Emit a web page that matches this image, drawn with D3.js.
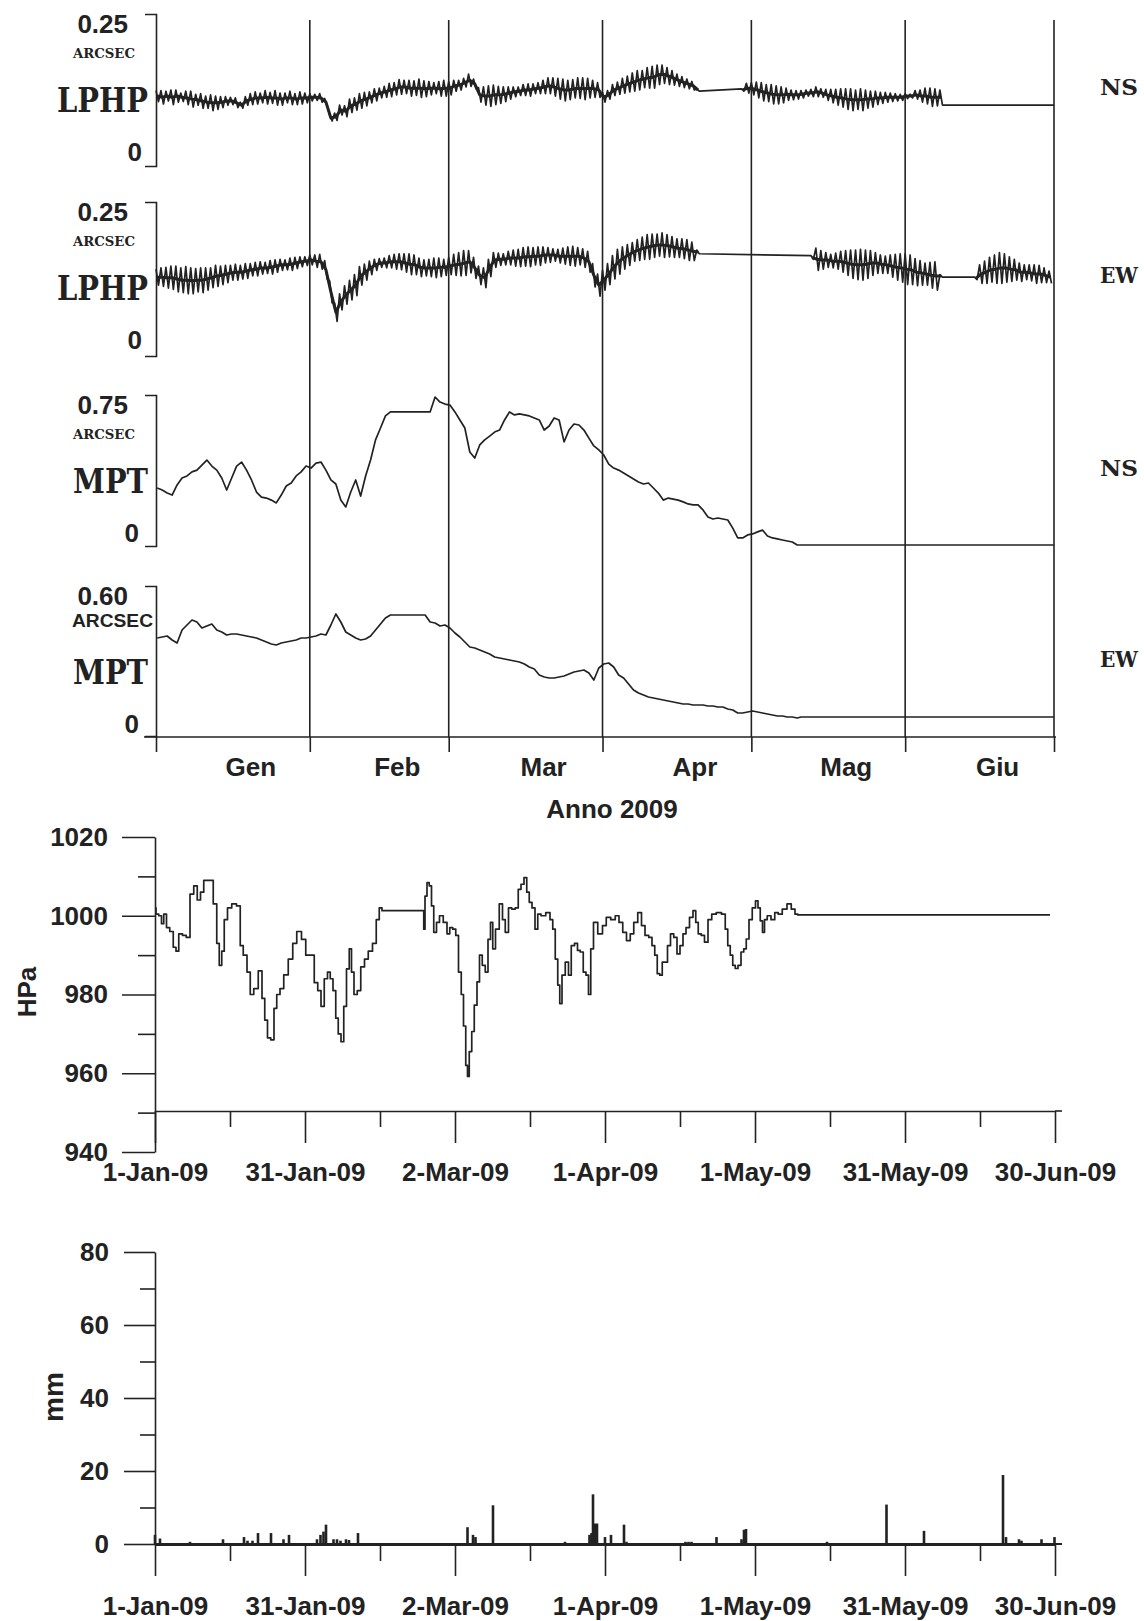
<!DOCTYPE html>
<html>
<head>
<meta charset="utf-8">
<script src="https://cdn.jsdelivr.net/npm/d3@7"></script>
<style>
  body { margin: 0; background: #fff; }
  svg { display: block; }
</style>
</head>
<body>
<svg id="chart" width="1144" height="1621"></svg>
<script>
// ---------------------------------------------------------------
// Tilt records (arcsec), Jan–Jun 2009, one entry per day (day 0 = 1 Jan).
// LPHP series are stored as daily mean and daily peak-to-peak range;
// null marks days with no recording (the trace bridges them straight).
// ---------------------------------------------------------------
const gap = n => Array(n).fill(null);

const monthStart = [0, 31, 59, 90, 120, 151, 181];
const monthNames = ["Gen", "Feb", "Mar", "Apr", "Mag", "Giu"];

const panelMax   = [0.25, 0.25, 0.75, 0.60];
const panelMaxLabel = ["0.25", "0.25", "0.75", "0.60"];
const panelNames = ["LPHP", "LPHP", "MPT", "MPT"];
const panelComponents = ["NS", "EW", "NS", "EW"];

const lphpNsMean = [
  0.115,0.113,0.115,0.113,0.115,0.113,0.112,0.110,0.109,0.107,
  0.105,0.104,0.104,0.105,0.107,0.107,0.104,0.100,0.107,0.110,
  0.112,0.112,0.113,0.112,0.112,0.110,0.112,0.112,0.110,0.112,
  0.112,0.113,0.113,0.112,0.105,0.079,0.081,0.092,0.090,0.099,
  0.102,0.107,0.110,0.113,0.117,0.120,0.122,0.125,0.127,0.130,
  0.130,0.128,0.128,0.128,0.127,0.128,0.128,0.127,0.128,0.128,
  0.132,0.133,0.137,0.141,0.135,0.117,0.115,0.115,0.117,0.117,
  0.118,0.120,0.122,0.123,0.125,0.125,0.127,0.128,0.130,0.132,
  0.130,0.127,0.125,0.125,0.127,0.128,0.127,0.128,0.127,0.125,
  0.113,0.117,0.125,0.128,0.132,0.135,0.138,0.141,0.143,0.145,
  0.146,0.150,0.151,0.148,0.145,0.141,0.138,0.135,0.132,0.125,
  ...gap(8),
  0.125,0.128,0.127,0.125,0.122,0.120,0.118,0.117,0.117,0.118,
  0.117,0.117,0.118,0.120,0.120,0.122,0.120,0.117,0.115,0.113,
  0.112,0.110,0.109,0.109,0.109,0.110,0.110,0.112,0.112,0.113,
  0.113,0.113,0.113,0.115,0.115,0.117,0.115,0.115,0.113,0.113,0.113
];
const lphpNsRange = [
  0.018,0.022,0.016,0.024,0.020,0.014,0.022,0.026,0.018,0.024,
  0.020,0.026,0.022,0.018,0.014,0.012,0.016,0.010,0.014,0.018,
  0.020,0.016,0.022,0.018,0.024,0.020,0.016,0.022,0.018,0.020,
  0.016,0.012,0.010,0.014,0.012,0.010,0.012,0.016,0.018,0.022,
  0.020,0.024,0.022,0.018,0.020,0.016,0.018,0.022,0.020,0.024,
  0.022,0.026,0.024,0.030,0.026,0.022,0.018,0.024,0.026,0.022,
  0.018,0.016,0.014,0.020,0.016,0.024,0.030,0.034,0.032,0.028,
  0.024,0.020,0.016,0.014,0.018,0.020,0.016,0.018,0.022,0.026,
  0.030,0.034,0.036,0.032,0.030,0.034,0.036,0.032,0.028,0.024,
  0.016,0.014,0.018,0.020,0.024,0.026,0.030,0.032,0.028,0.034,
  0.036,0.032,0.030,0.028,0.024,0.020,0.018,0.016,0.014,0.004,
  ...gap(8),
  0.004,0.016,0.020,0.026,0.030,0.028,0.032,0.030,0.026,0.020,
  0.016,0.014,0.012,0.010,0.012,0.016,0.014,0.018,0.022,0.026,
  0.030,0.034,0.036,0.032,0.036,0.030,0.026,0.022,0.018,0.016,
  0.014,0.012,0.010,0.008,0.006,0.014,0.020,0.026,0.030,0.028,0.024
];
// value held by the logger after the NS channel stopped
const lphpNsHold = [[158.6, 0.100], [181, 0.100]];

const lphpEwMean = [
  0.128,0.128,0.127,0.127,0.125,0.123,0.123,0.122,0.123,0.123,
  0.125,0.127,0.130,0.131,0.133,0.135,0.136,0.136,0.138,0.140,
  0.141,0.143,0.143,0.144,0.146,0.148,0.148,0.149,0.151,0.153,
  0.154,0.156,0.154,0.153,0.140,0.104,0.071,0.088,0.099,0.107,
  0.115,0.130,0.136,0.143,0.148,0.151,0.151,0.153,0.153,0.153,
  0.151,0.149,0.148,0.144,0.143,0.143,0.143,0.144,0.144,0.146,
  0.148,0.149,0.151,0.153,0.143,0.131,0.127,0.143,0.156,0.157,
  0.157,0.159,0.159,0.159,0.161,0.161,0.162,0.162,0.164,0.164,
  0.164,0.162,0.162,0.162,0.162,0.162,0.159,0.153,0.131,0.115,
  0.123,0.133,0.144,0.153,0.159,0.164,0.169,0.172,0.175,0.177,
  0.179,0.180,0.180,0.179,0.177,0.175,0.174,0.172,0.170,0.169,
  ...gap(22),
  0.160,0.157,0.156,0.156,0.154,0.154,0.153,0.151,0.149,0.148,
  0.148,0.149,0.151,0.151,0.149,0.148,0.146,0.144,0.143,0.141,
  0.140,0.136,0.135,0.133,0.131,0.130,0.130,
  ...gap(6),
  0.126,0.133,0.136,0.140,0.141,0.143,0.143,0.141,0.140,0.136,
  0.136,0.135,0.133,0.133,0.131,0.128
];
const lphpEwRange = [
  0.026,0.030,0.034,0.038,0.042,0.040,0.044,0.042,0.038,0.040,
  0.036,0.032,0.034,0.030,0.028,0.024,0.026,0.022,0.024,0.020,
  0.022,0.020,0.018,0.022,0.020,0.018,0.016,0.020,0.018,0.016,
  0.014,0.016,0.020,0.024,0.030,0.036,0.030,0.026,0.030,0.032,
  0.034,0.030,0.026,0.022,0.018,0.014,0.016,0.020,0.024,0.026,
  0.030,0.034,0.032,0.030,0.026,0.028,0.032,0.030,0.026,0.028,
  0.034,0.038,0.040,0.036,0.034,0.030,0.032,0.028,0.024,0.020,
  0.018,0.022,0.026,0.028,0.030,0.032,0.028,0.030,0.026,0.024,
  0.020,0.022,0.026,0.030,0.032,0.028,0.030,0.034,0.038,0.036,
  0.032,0.034,0.038,0.040,0.036,0.034,0.030,0.034,0.036,0.040,
  0.038,0.036,0.040,0.036,0.034,0.030,0.032,0.034,0.030,0.006,
  ...gap(22),
  0.006,0.036,0.030,0.024,0.022,0.026,0.034,0.040,0.046,0.048,
  0.050,0.046,0.040,0.034,0.030,0.028,0.036,0.042,0.046,0.050,
  0.048,0.044,0.040,0.036,0.042,0.046,0.004,
  ...gap(6),
  0.004,0.030,0.036,0.040,0.046,0.050,0.046,0.040,0.034,0.030,
  0.024,0.026,0.030,0.028,0.024,0.020
];

const mptNs = [
  0.288,0.278,0.263,0.253,0.303,0.338,0.348,0.368,0.377,0.402,
  0.427,0.397,0.377,0.338,0.278,0.338,0.397,0.417,0.377,0.328,
  0.268,0.243,0.238,0.228,0.214,0.253,0.298,0.313,0.348,0.368,
  0.397,0.387,0.412,0.417,0.377,0.328,0.308,0.228,0.194,0.268,
  0.328,0.248,0.348,0.427,0.527,0.586,0.646,0.666,
  ...gap(7),
  0.666,0.740,0.715,0.705,0.700,
  0.666,0.626,0.586,0.467,0.437,0.502,0.527,0.546,0.566,0.576,
  0.626,0.666,0.651,0.656,0.651,0.646,0.636,0.626,0.576,0.596,
  0.636,0.626,0.517,0.576,0.606,0.601,0.576,0.536,0.497,0.477,
  0.452,0.407,0.387,0.377,0.363,0.348,0.333,0.318,0.308,0.313,
  0.288,0.263,0.228,0.238,0.233,0.228,0.219,0.209,0.204,0.204,
  0.179,0.144,0.134,0.139,0.134,0.129,0.089,0.040,0.040,0.055,
  0.060,0.070,0.079,0.050,0.040,0.035,0.030,0.025,0.020,0.005
];
const mptNsHold = [[181, 0.005]];

const mptEw = [
  0.392,0.396,0.400,0.384,0.372,0.424,0.444,0.464,0.456,0.432,
  0.440,0.448,0.424,0.416,0.404,0.408,0.408,0.404,0.400,0.396,
  0.392,0.384,0.376,0.368,0.364,0.372,0.376,0.380,0.384,0.392,
  0.392,0.396,0.400,0.408,0.404,0.444,0.488,0.456,0.416,0.404,
  0.392,0.384,0.388,0.400,0.424,0.448,0.472,0.484,
  ...gap(6),
  0.484,
  0.456,0.452,0.440,0.444,0.432,
  0.412,0.396,0.376,0.356,0.352,0.344,0.336,0.328,0.316,0.312,
  0.308,0.304,0.300,0.296,0.288,0.276,0.268,0.244,0.236,0.232,
  0.232,0.236,0.240,0.248,0.256,0.260,0.264,0.252,0.224,0.272,
  0.288,0.292,0.276,0.244,0.232,0.208,0.184,0.172,0.164,0.156,
  0.152,0.148,0.144,0.140,0.136,0.132,0.128,0.128,0.124,0.124,
  0.124,0.120,0.120,0.116,0.116,0.108,0.104,0.092,0.092,0.096,
  0.100,0.096,0.092,0.088,0.084,0.080,0.080,0.076,0.076,0.072
];
const mptEwHold = [[130, 0.076], [181, 0.076]];

// Atmospheric pressure (hPa): [day since 1 Jan, value]
const pressure = [
  [0,1002],[0.4,1000.4],[1.1,1000],[1.5,998],[2,1000.4],[2.6,997],[3.3,996],[4,992],[4.4,991],
  [5.1,995.4],[5.9,995],[6.6,994.5],[7.4,1005.5],[8.1,1007.6],[8.8,1004],[9.4,1006],[10.1,1009],
  [11.2,1009],[12.1,1003],[12.6,993],[13.1,987.4],[13.6,991],[14.1,999],[14.9,1002],[15.8,1003],
  [16.8,1002.5],[17.3,992.4],[18,990],[18.8,985.7],[19.3,980],[20.2,981.5],[21.1,986],[21.7,979],
  [22.2,973.5],[22.8,969],[23.5,968.5],[24.1,976.5],[24.6,980],[25.4,981.5],[26.1,985],[27.2,989],
  [27.9,993],[28.8,996],[29.8,994],[30.5,990],[31.5,990],[32.2,983],[32.9,981],[33.5,977],[34.2,984],
  [34.8,985.7],[35.3,984],[35.9,981],[36.4,974],[36.9,970],[37.5,968],[38,977],[38.6,986.5],
  [39.1,991.6],[39.5,985.7],[40.1,980],[40.8,981],[41.5,987],[42.3,989],[43,991],[44,993],[44.5,999],
  [45.2,1002],[45.6,1001.3],[53.7,1001.3],[53.8,996.6],[54.2,1005],[54.6,1008.4],[55.1,1007.6],
  [55.5,1002.5],[56,995.8],[56.6,998.3],[57.2,1000],[58.1,998.3],[58.7,995.4],[59.2,997],[59.9,996.6],
  [60.4,995],[61,985.7],[61.5,980],[61.9,972],[62.4,962],[62.6,959.2],[63.1,965.5],[63.6,970.6],
  [64.1,977.3],[64.7,983.2],[65.1,990],[65.8,987.4],[66.3,985.7],[66.9,994],[67.3,998.3],[67.8,991.6],
  [68.4,996.6],[69.3,1003],[69.7,999],[70.4,995.8],[71,1002],[71.7,1001.7],[72.4,1002],[72.9,1006.7],
  [73.5,1008],[74.1,1009.7],[74.6,1006],[75.1,1003.4],[75.7,1002],[76.3,996.6],[76.8,1000.4],
  [77.6,1000],[78.7,1000.8],[79.3,999],[79.8,996.6],[80.3,989],[80.8,982.4],[81.1,977.7],[81.7,984.9],
  [82.4,988.2],[83,984.9],[83.5,992.4],[84.3,993],[84.7,991.2],[85.4,990.8],[85.9,985.7],[86.5,984.9],
  [86.9,980],[87.4,991.6],[88,998.3],[89.1,995.4],[89.9,997.5],[90.6,999.6],[91.7,999],[92.4,1000],
  [93.2,998.3],[93.9,995.8],[94.7,993.7],[95.4,995.4],[96.1,998.3],[97,1000.8],[97.6,997.5],[98.4,995],
  [99.1,994.5],[99.7,992.4],[100.2,990],[100.7,985.3],[101.2,984.9],[101.7,988.2],[102.2,988.2],
  [102.8,992.4],[103.4,995.4],[104.1,994.5],[104.7,990.3],[105.3,992.4],[105.9,995.4],[106.5,997],
  [107.3,999.6],[107.9,1001.3],[108.4,998.3],[108.9,995.4],[109.6,995],[110.2,993.3],[111,999],
  [111.7,1000.4],[112.8,1000.8],[113.8,1000.4],[114.3,996.6],[114.8,992.4],[115.3,990],[115.8,987.4],
  [116.3,986.6],[116.9,987.4],[117.5,990.8],[118,991.6],[118.5,994.1],[119.1,999],[119.8,1002],
  [120.4,1003.8],[120.8,1002],[121.3,998.7],[121.7,995.8],[122.1,999],[122.8,1000],[123.6,999],
  [124.3,1000.8],[125,1000.4],[125.9,1001.7],[126.9,1003],[127.6,1001.7],[128.4,1000.4],
  [128.7,1000.2],[179,1000.2]
];

// Rainfall (mm): [day since 1 Jan, amount]
const rain = [
  [0,2.5],[1,1.5],[7,0.6],[13.6,1.3],[17.8,1.9],[18.5,0.9],[19.5,0.9],[20.6,3],[23.2,3],[25.7,1.3],
  [26.8,2.5],[32.4,1.3],[33.1,2.5],[33.7,3.4],[34.2,5.3],[35.7,1.3],[36.4,1.3],[37.1,0.9],[38.2,1.3],
  [38.8,1.1],[40.6,3],[62.5,4.6],[63.6,2.5],[64.1,1.9],[67.6,10.6],[82,0.6],[86.9,2.5],[87.3,3],
  [87.6,13.6],[88,5.6],[88.4,5.6],[90,1.9],[91.2,2.5],[93.8,5.3],[94.3,0.6],[106.1,0.6],[106.7,0.6],
  [107.3,0.6],[112.3,1.9],[117.3,1.3],[117.8,3.9],[118.2,4.1],[134.4,0.6],[146.3,10.8],[153.8,3.6],
  [169.6,18.9],[170.2,1.9],[172.8,1.3],[173.3,0.9],[177.3,1.3],[179.9,1.9]
];

const dateTickDays = [0, 30, 60, 90, 120, 150, 180];
const dateTickLabels = ["1-Jan-09", "31-Jan-09", "2-Mar-09", "1-Apr-09", "1-May-09", "31-May-09", "30-Jun-09"];
const dateMinorDays = [15, 45, 75, 105, 135, 165];
const pressureTicks = [940, 960, 980, 1000, 1020];
const pressureMinor = [950, 970, 990, 1010];
const rainTicks = [0, 20, 40, 60, 80];
const rainMinor = [10, 30, 50, 70];

// ---------------------------------------------------------------
const INK = "#222";
const SANS = "'Liberation Sans', Arial, Helvetica, sans-serif";
const SERIF = "'DejaVu Serif', 'Liberation Serif', serif";
const svg = d3.select("#chart");

// ===== Tilt block =====
const dayX = d3.scaleLinear().domain([0, 181]).range([156, 1054]);
const panelTop = [14, 202, 395, 586];
const panelBottom = [166, 356, 546, 736];

// daily high / low pairs of the tidal swing
const zig = (mean, range) => {
  const pts = [];
  mean.forEach((m, d) => {
    if (m == null) return;
    const r = range[d] || 0;
    pts.push([d, m + r / 2], [d + 0.5, m - r / 2]);
  });
  return pts;
};
// daily points; keepGaps leaves null entries so the trace can break there
const daily = (vals, keepGaps) => {
  const pts = vals.map((v, d) => v == null ? null : [d + 0.25, v]);
  return keepGaps ? pts : pts.filter(p => p);
};

// each panel: list of [points, stroke width]
const panelTraces = [
  [[zig(lphpNsMean, lphpNsRange).concat(lphpNsHold), 1.7], [daily(lphpNsMean, true), 3]],
  [[zig(lphpEwMean, lphpEwRange), 1.7], [daily(lphpEwMean, true), 3]],
  [[daily(mptNs).concat(mptNsHold), 1.7]],
  [[daily(mptEw).concat(mptEwHold), 1.7]]
];

// month separators
svg.append("g").selectAll("line")
  .data(monthStart.slice(1))
  .join("line")
  .attr("x1", d => dayX(d)).attr("x2", d => dayX(d))
  .attr("y1", 20).attr("y2", 737)
  .attr("stroke", INK).attr("stroke-width", 1.6);

panelTraces.forEach((traces, i) => {
  const y = d3.scaleLinear().domain([0, panelMax[i]]).range([panelBottom[i], panelTop[i]]);
  // bracket-style value axis
  const ax = svg.append("g").attr("transform", `translate(${dayX(0)},0)`)
    .call(d3.axisLeft(y).tickValues([]).tickSizeOuter(11));
  ax.select(".domain").attr("stroke", INK).attr("stroke-width", 1.6);

  const line = d3.line().defined(p => p != null).x(p => dayX(p[0])).y(p => y(p[1]));
  traces.forEach(([pts, w]) => {
    svg.append("path").datum(pts)
      .attr("d", line).attr("fill", "none")
      .attr("stroke", INK).attr("stroke-width", w)
      .attr("stroke-linejoin", "round");
  });

  const t = panelTop[i];
  svg.append("text").text(panelMaxLabel[i])
    .attr("x", 128).attr("y", t + 18.5).attr("text-anchor", "end")
    .attr("font-family", SANS).attr("font-weight", "bold").attr("font-size", 26).attr("fill", INK);
  if (i < 3) {
    svg.append("text").text("ARCSEC")
      .attr("x", 73).attr("y", t + 44).attr("textLength", 62).attr("lengthAdjust", "spacingAndGlyphs")
      .attr("font-family", SERIF).attr("font-weight", "bold").attr("font-size", 12).attr("fill", INK);
  } else {
    svg.append("text").text("ARCSEC")
      .attr("x", 72).attr("y", t + 41).attr("textLength", 81).attr("lengthAdjust", "spacingAndGlyphs")
      .attr("font-family", SANS).attr("font-weight", "bold").attr("font-size", 19).attr("fill", INK);
  }
  const nameW = panelNames[i] === "LPHP" ? 91 : 75;
  svg.append("text").text(panelNames[i])
    .attr("x", 148 - nameW).attr("y", t + 98).attr("textLength", nameW).attr("lengthAdjust", "spacingAndGlyphs")
    .attr("font-family", SERIF).attr("font-weight", "bold").attr("font-size", 33).attr("fill", INK);
  svg.append("text").text("0")
    .attr("x", i < 2 ? 142 : 139).attr("y", t + 147).attr("text-anchor", "end")
    .attr("font-family", SANS).attr("font-weight", "bold").attr("font-size", 26).attr("fill", INK);
  svg.append("text").text(panelComponents[i])
    .attr("x", 1100).attr("y", t + 81).attr("textLength", 38).attr("lengthAdjust", "spacingAndGlyphs")
    .attr("font-family", SERIF).attr("font-weight", "bold").attr("font-size", 22).attr("fill", INK);
});

// month axis
svg.append("line").attr("x1", 144).attr("x2", 1056).attr("y1", 737).attr("y2", 737)
  .attr("stroke", INK).attr("stroke-width", 1.6);
const mAx = svg.append("g").attr("transform", "translate(0,737)")
  .call(d3.axisBottom(dayX).tickValues(monthStart).tickSize(15).tickSizeOuter(0).tickFormat(""));
mAx.select(".domain").remove();
mAx.selectAll("line").attr("stroke", INK).attr("stroke-width", 1.6);

svg.append("g").selectAll("text")
  .data(monthNames)
  .join("text")
  .text(d => d)
  .attr("x", (d, i) => (dayX(monthStart[i]) + dayX(monthStart[i + 1])) / 2 + 18)
  .attr("y", 776)
  .attr("text-anchor", "middle")
  .attr("font-family", SANS).attr("font-weight", "bold").attr("font-size", 26).attr("fill", INK);

svg.append("text").text("Anno 2009")
  .attr("x", 612).attr("y", 818).attr("text-anchor", "middle")
  .attr("font-family", SANS).attr("font-weight", "bold").attr("font-size", 26).attr("fill", INK);

// ===== shared date scale for the meteorological panels =====
const dateX = d3.scaleLinear().domain([0, 180]).range([155, 1055]);

function styleAxis(g, fontSize) {
  g.selectAll("line").attr("stroke", INK).attr("stroke-width", 1.6);
  g.select(".domain").attr("stroke", INK).attr("stroke-width", 1.6);
  g.selectAll("text").attr("font-family", SANS).attr("font-weight", "bold")
    .attr("font-size", fontSize).attr("fill", INK);
}

// ===== Pressure =====
const yP = d3.scaleLinear().domain([940, 1020]).range([1152, 837]);
const pAxisY = 1111;

styleAxis(svg.append("g").attr("transform", "translate(155,0)")
  .call(d3.axisLeft(yP).tickValues(pressureTicks).tickSize(33).tickPadding(14).tickSizeOuter(0)
    .tickFormat(d3.format("d"))), 26);
const pMinor = svg.append("g").attr("transform", "translate(155,0)")
  .call(d3.axisLeft(yP).tickValues(pressureMinor).tickSize(17).tickFormat(""));
pMinor.select(".domain").remove();
styleAxis(pMinor, 26);

styleAxis(svg.append("g").attr("transform", `translate(0,${pAxisY})`)
  .call(d3.axisBottom(dateX).tickValues(dateTickDays).tickSize(32).tickPadding(20).tickSizeOuter(0)
    .tickFormat((d, i) => dateTickLabels[i])), 26);
const pxMinor = svg.append("g").attr("transform", `translate(0,${pAxisY})`)
  .call(d3.axisBottom(dateX).tickValues(dateMinorDays).tickSize(16).tickFormat(""));
pxMinor.select(".domain").remove();
styleAxis(pxMinor, 26);
svg.append("line").attr("x1", 1055).attr("x2", 1062).attr("y1", pAxisY).attr("y2", pAxisY)
  .attr("stroke", INK).attr("stroke-width", 1.6);

svg.append("path").datum(pressure)
  .attr("d", d3.line().x(p => dateX(p[0])).y(p => yP(p[1])).curve(d3.curveStep))
  .attr("fill", "none").attr("stroke", INK).attr("stroke-width", 1.7).attr("stroke-linejoin", "round");

svg.append("text").text("HPa")
  .attr("transform", "translate(36,992) rotate(-90)")
  .attr("text-anchor", "middle")
  .attr("font-family", SANS).attr("font-weight", "bold").attr("font-size", 26).attr("fill", INK);

// ===== Rainfall =====
const yR = d3.scaleLinear().domain([0, 80]).range([1544, 1252]);

styleAxis(svg.append("g").attr("transform", "translate(155,0)")
  .call(d3.axisLeft(yR).tickValues(rainTicks).tickSize(31).tickPadding(15).tickSizeOuter(0)), 26);
const rMinor = svg.append("g").attr("transform", "translate(155,0)")
  .call(d3.axisLeft(yR).tickValues(rainMinor).tickSize(15).tickFormat(""));
rMinor.select(".domain").remove();
styleAxis(rMinor, 26);

svg.append("g").selectAll("rect")
  .data(rain)
  .join("rect")
  .attr("x", d => dateX(d[0]) - 1.3)
  .attr("width", 2.6)
  .attr("y", d => yR(d[1]))
  .attr("height", d => yR(0) - yR(d[1]))
  .attr("fill", INK);

const rAx = svg.append("g").attr("transform", `translate(0,${yR(0)})`)
  .call(d3.axisBottom(dateX).tickValues(dateTickDays).tickSize(32).tickPadding(21).tickSizeOuter(0)
    .tickFormat((d, i) => dateTickLabels[i]));
styleAxis(rAx, 26);
rAx.select(".domain").attr("stroke-width", 3);
const rxMinor = svg.append("g").attr("transform", `translate(0,${yR(0)})`)
  .call(d3.axisBottom(dateX).tickValues(dateMinorDays).tickSize(17).tickFormat(""));
rxMinor.select(".domain").remove();
styleAxis(rxMinor, 26);
svg.append("line").attr("x1", 1055).attr("x2", 1062).attr("y1", yR(0)).attr("y2", yR(0))
  .attr("stroke", INK).attr("stroke-width", 2);

svg.append("text").text("mm")
  .attr("transform", "translate(63,1397) rotate(-90)")
  .attr("text-anchor", "middle")
  .attr("font-family", SANS).attr("font-weight", "bold").attr("font-size", 28).attr("fill", INK);
</script>
</body>
</html>
